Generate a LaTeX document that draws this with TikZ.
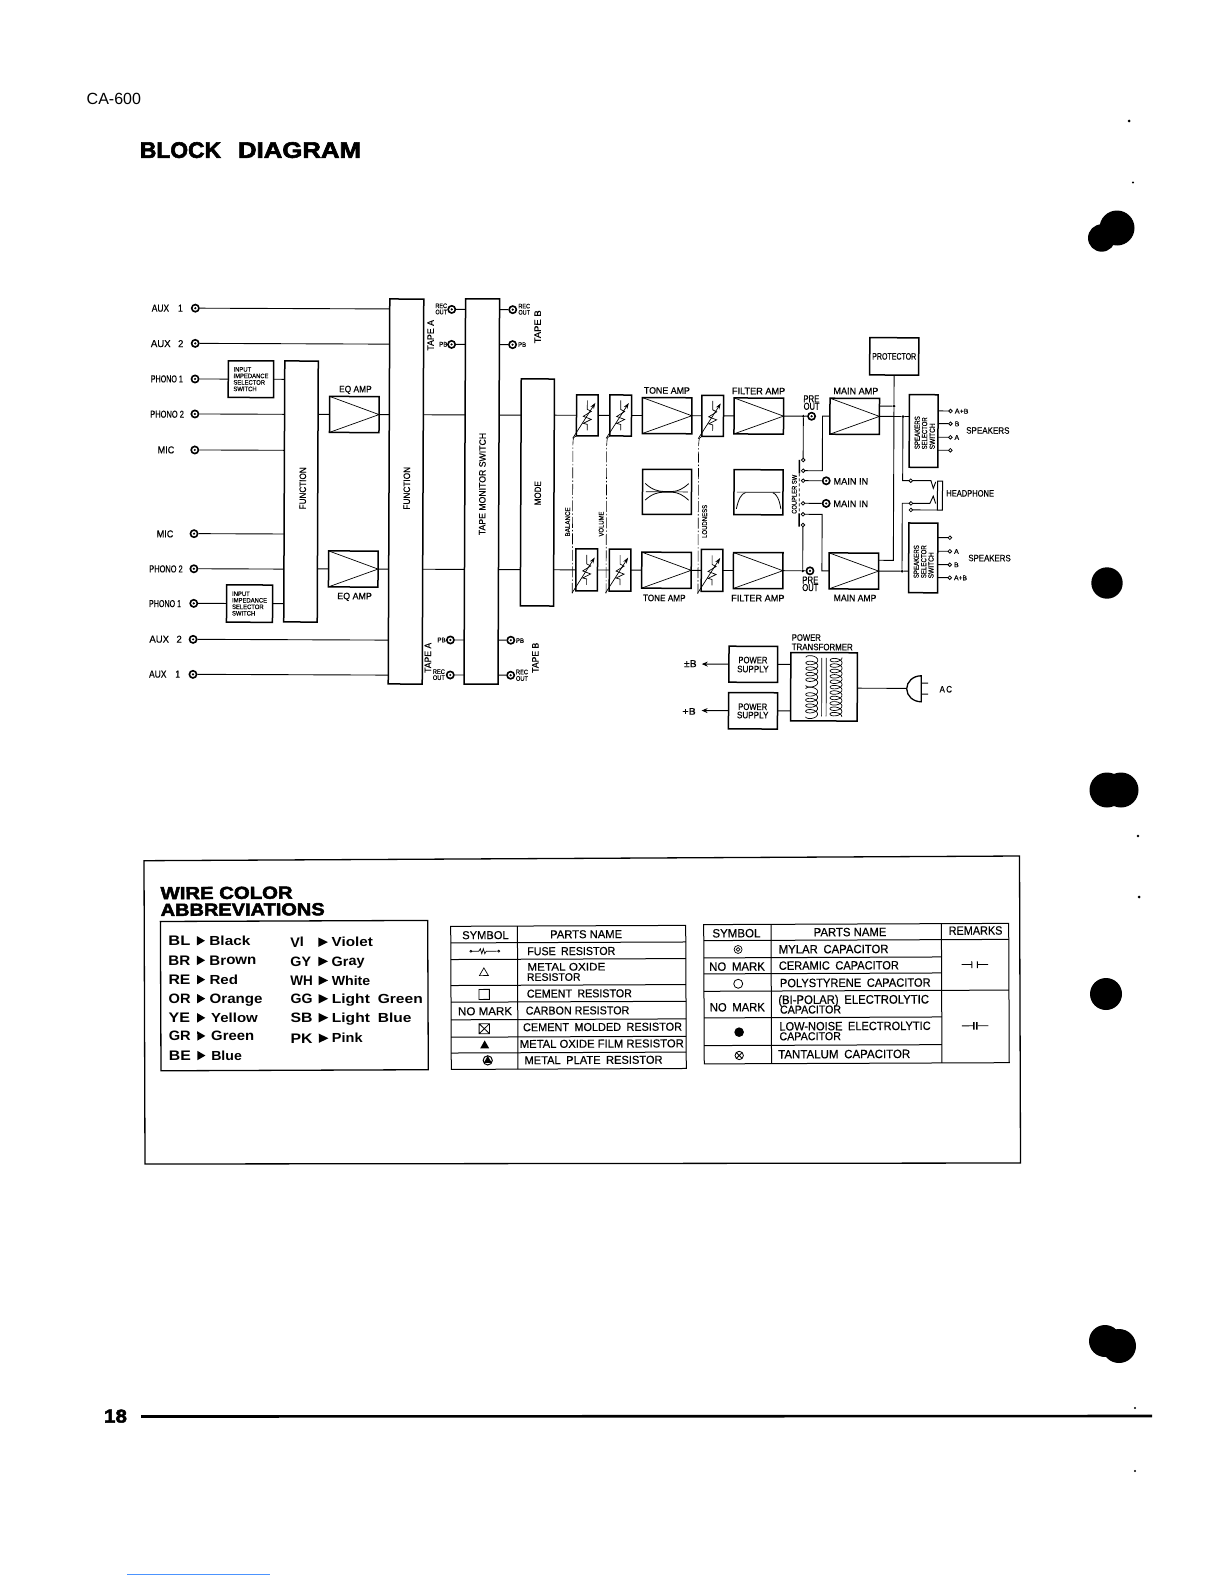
\documentclass[tikz,border=0pt]{standalone}
\usepackage{graphicx}
\usepackage{fontspec}
\usetikzlibrary{arrows.meta,calc}
\setmainfont{Liberation Sans}
\newfontfamily\mfont{Liberation Sans}[FakeBold=0.4]
\newfontfamily\wfont{Liberation Sans}[UprightFont=* Bold]
\newfontfamily\hfont{Liberation Sans}[UprightFont=* Bold,FakeBold=2.6]
\newcounter{tc}
\newcommand\TT[3]{\resizebox{#1pt}{#2pt}{#3}}
\newcommand\LL[5]{\stepcounter{tc}\node[txt,anchor=base west] (t\thetc) at ({#1},{#2+#4/2}) {\TT{#3}{#4}{#5}};}
\newcommand\LC[5]{\stepcounter{tc}\node[txt,anchor=base] (t\thetc) at ({#1},{#2+#4/2}) {\TT{#3}{#4}{#5}};}
\newcommand\LV[5]{\stepcounter{tc}\node[txt,anchor=base,rotate=90] (t\thetc) at ({#1+#4/2},{#2}) {\TT{#3}{#4}{#5}};}
\newcommand\BX[5]{\node[bx,minimum width=#4pt,minimum height=#5pt] (#1) at (#2,#3) {};}
\newcommand\AMP[3]{\BX{#1}{#2}{#3}{49.5}{36}\draw[thinl] (#1.north west) -- (#1.east) -- (#1.south west);}
\newcommand\JK[3]{\node[jack] (#1) at (#2,#3) {};}
\newcommand\TM[3]{\node[term] (#1) at (#2,#3) {};}
\newcommand\DOT[3]{\node[jdot] (#1) at (#2,#3) {};}
\newcommand\POT[4]{\BX{#1}{#2}{#3}{21.6}{#4}
 \begin{scope}[shift={(#2,#3)}]
 \draw[thinl] (0,-15) -- (0,-6) -- (4,-4) -- (-4,1) -- (4,4) -- (-4,8) -- (0,9) -- (0,15);
 \draw[thinl,-{Stealth[length=6pt,width=4pt]}] (-14.5,23) -- (8,-12.5);
 \end{scope}}
\newcommand\COIL[5]{\draw[line width=.7pt] plot[smooth,domain=#5:{#5+360*#3},samples={16*#3}] ({#1+6*cos(\x)},{#2+#4*((\x-#5)/360)+3*sin(\x)});}
\tikzset{
 txt/.style={inner sep=0pt,outer sep=0pt},
 bx/.style={draw,rectangle,line width=1.5pt,inner sep=0pt,outer sep=0pt},
 wire/.style={line width=.9pt},
 thinl/.style={line width=.7pt},
 jack/.style={circle,fill=black,minimum size=9pt,inner sep=0pt,outer sep=0pt,
   path picture={\fill[white] (path picture bounding box.center) circle (2.6pt);
                 \fill[black] (path picture bounding box.center) circle (1.2pt);}},
 term/.style={circle,draw,line width=.8pt,fill=white,minimum size=3.6pt,inner sep=0pt,outer sep=0pt},
 jdot/.style={circle,fill=black,minimum size=3pt,inner sep=0pt,outer sep=0pt},
 gang/.style={line width=.6pt,dash pattern=on 11pt off 2pt on 1.5pt off 2pt},
 tline/.style={line width=1pt},
}
\begin{document}
\begin{tikzpicture}[x=1pt,y=-1pt,every node/.append style={font=\mfont}]
\useasboundingbox (0,0) rectangle (1224,1584);
% page furniture
\LL{86.7}{99.3}{54.3}{11.3}{\normalfont CA-600}
\begin{scope}[every node/.append style={font=\hfont}]
\LL{140}{150}{81}{15.7}{BLOCK}
\LL{238}{150}{123}{15.7}{DIAGRAM}
\LL{104}{1416}{23}{13}{18}
\end{scope}
\draw[line width=2.6pt] (141,1416.5) -- (1152,1416);
\draw[line width=1pt,color=blue!60!cyan!70] (127,1574.5) -- (270,1574.5);
% punch holes and specks
\fill (1117,228) circle (17.5) (1101.7,238) circle (13.7);
\fill (1107,583) circle (15.7);
\fill (1107,790) circle (17.5) (1121,790) circle (17.5);
\fill (1106,994) circle (16);
\fill (1105,1341) circle (16) (1119,1346) circle (17);
\fill (1129,121) circle (1.5) (1133,182.5) circle (1.2) (1138,836) circle (1.3) (1139,897) circle (1.5) (1135,1408) circle (1.2) (1135,1471) circle (1.2);

% ===== BLOCK DIAGRAM =====
\begin{scope}[rotate around={-0.23:(600,490)},transform shape]
% buses
\BX{ff}{301}{492.7}{33.5}{261}
\BX{fs}{406}{492.3}{34}{385}
\BX{tms}{481.8}{492}{34}{385.3}
\BX{mode}{537.4}{492.7}{33.2}{227}
\LV{302.7}{489.5}{42}{6.5}{FUNCTION}
\LV{406.7}{489}{42.7}{6.5}{FUNCTION}
\LV{482.3}{484.5}{102.3}{6.5}{TAPE MONITOR SWITCH}
\LV{537.7}{493.5}{24}{6.5}{MODE}
% input jacks
\JK{ja1}{194.6}{309.8}\JK{ja2}{194.6}{345}\JK{jp1}{194.6}{380.6}\JK{jp2}{194.6}{415.6}\JK{jm}{194.6}{451.6}
\JK{jmb}{194.2}{535.3}\JK{jpb2}{194.2}{570.4}\JK{jpb1}{194.2}{605}\JK{jab2}{193.7}{641}\JK{jab1}{193.7}{676}
\LL{151}{309.9}{31}{7}{AUX\enspace\ \ 1}
\LL{150.3}{345.3}{32.5}{7}{AUX\enspace\ 2}
\LL{150.4}{380.6}{32}{7}{PHONO 1}
\LL{149.9}{415.9}{33.7}{7}{PHONO 2}
\LL{157.5}{451.6}{16.6}{7}{MIC}
\LL{156.9}{535.6}{16.6}{7}{MIC}
\LL{149.6}{570.6}{33.4}{7}{PHONO 2}
\LL{149.5}{605.3}{32}{7}{PHONO 1}
\LL{150}{640.9}{32.4}{7}{AUX\enspace\ 2}
\LL{149.8}{675.9}{31}{7}{AUX\enspace\ \ 1}
\draw[wire] (ja1) -- (ja1 -| fs.west);
\draw[wire] (ja2) -- (ja2 -| fs.west);
\draw[wire] (jab2) -- (jab2 -| fs.west);
\draw[wire] (jab1) -- (jab1 -| fs.west);
\draw[wire] (jp2) -- (jp2 -| ff.west);
\draw[wire] (jm) -- (jm -| ff.west);
\draw[wire] (jmb) -- (jmb -| ff.west);
\draw[wire] (jpb2) -- (jpb2 -| ff.west);
% impedance selectors
\node[bx,minimum width=45.4pt,minimum height=36.6pt] (isu) at (250.5,380.6) {\TT{35}{24}{\shortstack[l]{INPUT\\IMPEDANCE\\SELECTOR\\SWITCH}}};
\node[bx,minimum width=46pt,minimum height=37.3pt] (isl) at (250,605) {\TT{35}{24}{\shortstack[l]{INPUT\\IMPEDANCE\\SELECTOR\\SWITCH}}};
\draw[wire] (jp1) -- (isu.west);
\draw[wire] (isu.east) -- (isu.east -| ff.west);
\draw[wire] (jpb1) -- (isl.west);
\draw[wire] (isl.east) -- (isl.east -| ff.west);
% EQ amps
\AMP{equ}{354}{415.5}
\AMP{eql}{353.6}{570}
\LC{355}{390}{32.6}{6.5}{EQ AMP}
\LC{355}{597}{34.6}{6.5}{EQ AMP}
\draw[wire] (equ.west -| ff.east) -- (equ.west);
\draw[wire] (eql.west -| ff.east) -- (eql.west);
\draw[wire] (equ.east) -- (equ.east -| fs.west);
\draw[wire] (eql.east) -- (eql.east -| fs.west);
\draw[wire] (equ.east -| fs.east) -- (equ.east -| tms.west);
\draw[wire] (eql.east -| fs.east) -- (eql.east -| tms.west);
\draw[wire] (equ.east -| tms.east) -- (equ.east -| mode.west);
\draw[wire] (eql.east -| tms.east) -- (eql.east -| mode.west);
% tape jacks
\JK{tr1}{451}{310}\JK{tp1}{451}{345}\JK{tp2}{451}{640.6}\JK{tr2}{451}{675.6}
\JK{br1}{512}{310}\JK{bp1}{512}{345}\JK{bp2}{511.4}{640.6}\JK{br2}{511.4}{675.6}
\foreach \n in {tr1,tp1,tp2,tr2}{\draw[wire] (\n) -- (\n -| tms.west);}
\foreach \n in {br1,bp1,bp2,br2}{\draw[wire] (\n) -- (\n -| tms.east);}
\LV{430}{336}{30.7}{6.5}{TAPE A}
\LV{428.6}{658.5}{30}{6.5}{TAPE A}
\LV{537}{327}{33}{6.5}{TAPE B}
\LV{536}{658}{30}{6.5}{TAPE B}
\LC{440.5}{306.4}{11.5}{4.6}{REC}\LC{440.5}{312.6}{11.5}{4.6}{OUT}
\LC{523.5}{306.4}{11.5}{4.6}{REC}\LC{523.5}{312.6}{11.5}{4.6}{OUT}
\LC{439.6}{672.3}{12}{4.6}{REC}\LC{439.6}{678.3}{12}{4.6}{OUT}
\LC{522.7}{672.3}{12}{4.6}{REC}\LC{522.7}{678.8}{12}{4.6}{OUT}
\LL{438.6}{344.9}{8.3}{4.6}{PB}
\LL{517.5}{344.9}{8}{4.6}{PB}
\LL{438}{640.6}{8.3}{4.6}{PB}
\LL{516.6}{640.9}{8}{4.6}{PB}
% volume section
\POT{pu1}{587}{415.4}{41}\POT{pu2}{620.4}{415.4}{41}\POT{pu3}{712.4}{415.4}{41}
\POT{pl1}{587}{570}{42}\POT{pl2}{620.4}{570}{42}\POT{pl3}{712.4}{570}{42}
\AMP{tu}{666.8}{415.4}\AMP{tl}{666.8}{570}
\AMP{fu}{758.5}{415.4}\AMP{fl}{758.5}{570}
\LC{666.5}{390.2}{46}{6.5}{TONE AMP}
\LC{664.7}{597.7}{42.7}{6.5}{TONE AMP}
\LC{758.2}{390.4}{53.3}{6.5}{FILTER AMP}
\LC{758.3}{597.5}{53.3}{6.5}{FILTER AMP}
\BX{tc}{667}{491.6}{49}{45}
\BX{fc}{758.5}{491.6}{49}{45}
\begin{scope}[shift={(tc.center)}]
\draw[thinl] (-21,0) -- (21,0);
\draw[line width=.8pt] (-21.7,-8.3) .. controls (-15,-2) and (-9,-.5) .. (-3,-.3) -- (5,-.3) .. controls (11,-.5) and (16,-3) .. (21.7,-8.3);
\draw[line width=.8pt] (-21.7,8.3) .. controls (-15,2) and (-9,.5) .. (-3,.3) -- (5,.3) .. controls (11,.5) and (16,3) .. (21.7,8.3);
\end{scope}
\begin{scope}[shift={(fc.center)}]
\draw[thinl] (-21.5,0) -- (22,0);
\draw[line width=.8pt] (-22,16.7) .. controls (-20,7) and (-17,1.5) .. (-13,.5);
\draw[line width=.8pt] (14.5,.5) .. controls (18,1.5) and (21,7) .. (22.5,16.7);
\end{scope}
\foreach \a/\b in {pu1/pu2,pu2/tu,tu/pu3,pu3/fu,pl1/pl2,pl2/tl,tl/pl3,pl3/fl}{\draw[wire] (\a.east) -- (\b.west);}
\draw[wire] (pu1.west -| mode.east) -- (pu1.west);
\draw[wire] (pl1.west -| mode.east) -- (pl1.west);
% gang lines
\coordinate (g1) at (572.7,593.5);\coordinate (g2) at (606.5,593.5);\coordinate (g3) at (698.4,593.5);
\draw[gang] (pu1.south west) .. controls (573,437) .. (572.7,445) -- (g1);
\draw[gang] (pu2.south west) .. controls (607,437) .. (606.5,445) -- (g2);
\draw[gang] (pu3.south west) .. controls (699,437) .. (698.4,445) -- (g3);
\LV{567.7}{522}{29}{4.8}{BALANCE}
\LV{601.3}{524}{25}{4.8}{VOLUME}
\LV{704.7}{521}{33}{4.8}{LOUDNESS}
% pre out and coupler
\DOT{du}{803.1}{415.4}\DOT{dl}{803.1}{570}
\JK{pou}{811.3}{415.4}\JK{pol}{810.3}{570}
\draw[wire] (fu.east) -- (du) -- (pou);
\draw[wire] (fl.east) -- (dl) -- (pol);
\LC{811}{398}{16}{7}{PRE}\LC{811.3}{405.4}{16}{7}{OUT}
\LC{810.7}{579.2}{16}{7}{PRE}\LC{810.7}{586.7}{16}{7}{OUT}
\TM{c1}{803.1}{459.2}\TM{c2}{803.1}{469.9}\TM{c3}{803.1}{479.9}
\TM{c4}{803.1}{502.5}\TM{c5}{803.1}{513.5}\TM{c6}{803.1}{524.2}
\draw[wire] (du) -- (c1);
\draw[wire] (dl) -- (c6);
\coordinate (sw1) at (799.3,459.2);\coordinate (sw2) at (799.3,472.5);\coordinate (sw3) at (799.3,512.5);\coordinate (sw4) at (799.3,525.9);
\draw[line width=1.5pt] (sw1) -- (sw2);
\draw[line width=1.5pt] (sw3) -- (sw4);
\draw[line width=.7pt,dash pattern=on 3pt off 2pt] (sw2) -- (sw3);
\LV{794.3}{493.5}{39}{4.8}{COUPLER SW}
\JK{mi1}{826.2}{479.9}\JK{mi2}{826.2}{502.5}
\draw[wire] (c3) -- (mi1);
\draw[wire] (c4) -- (mi2);
\LL{833.5}{480.4}{34.7}{6.5}{MAIN IN}
\LL{833.5}{502.8}{34.7}{6.5}{MAIN IN}
% main amps
\AMP{mu}{854.4}{415.3}\AMP{ml}{854.2}{570}
\coordinate (bu) at (822.3,415.3);\coordinate (bl) at (822.3,570);
\draw[wire] (c2) -| (bu) -- (mu.west);
\draw[wire] (c5) -| (bl) -- (ml.west);
\LC{855.5}{390}{45}{6.5}{MAIN AMP}
\LC{855.5}{597}{42.7}{6.5}{MAIN AMP}
% protector
\node[bx,minimum width=49pt,minimum height=37.3pt] (prot) at (893.7,355.2) {\TT{44}{6.5}{PROTECTOR}};
\coordinate (pb) at (893.7,559.2);
\DOT{pd}{893.7}{405}
\draw[wire] (prot.south) -- (pd) -- (pb) -- (pb -| ml.east);
\draw[wire] (pd -| mu.east) -- (pd);
% speaker selectors
\BX{su}{923.4}{429.7}{28.7}{72.6}
\BX{sl}{923.5}{556.6}{29}{69.7}
\LV{917}{431.4}{33}{5.2}{SPEAKERS}\LV{924.3}{432}{32}{5.2}{SELECTOR}\LV{932}{435}{26}{5.2}{SWITCH}
\LV{916.6}{560.4}{33}{5.2}{SPEAKERS}\LV{924}{560.4}{33}{5.2}{SELECTOR}\LV{931.3}{564}{26}{5.2}{SWITCH}
\DOT{ju}{902.7}{415.3}\DOT{jl}{902.4}{570}
\draw[wire] (mu.east) -- (ju) -- (su.west |- ju);
\draw[wire] (ml.east) -- (jl) -- (sl.west |- jl);
\TM{su1}{950.2}{409.6}\TM{su2}{950.2}{422.3}\TM{su3}{950.2}{435.9}\TM{su4}{950.2}{448.9}
\TM{sl1}{950.1}{536.3}\TM{sl2}{950.1}{549.9}\TM{sl3}{950.1}{563.3}\TM{sl4}{950.1}{576.3}
\foreach \n in {su1,su2,su3,su4}{\draw[wire] (\n) -- (\n -| su.east);}
\foreach \n in {sl1,sl2,sl3,sl4}{\draw[wire] (\n) -- (\n -| sl.east);}
\LL{954.5}{409.7}{13.6}{4.8}{A+B}\LL{954.5}{422.4}{4.6}{4.8}{B}\LL{954.3}{436}{4.6}{4.8}{A}
\LL{954.4}{550}{4.6}{4.8}{A}\LL{954.4}{563.4}{4.6}{4.8}{B}\LL{954.4}{576.4}{13}{4.8}{A+B}
\LC{987.6}{428.9}{43.3}{6.5}{SPEAKERS}
\LC{989.8}{556.5}{42.3}{6.5}{SPEAKERS}
% headphone
\node[draw,rectangle,line width=1pt,minimum width=5pt,minimum height=29pt,inner sep=0pt,outer sep=0pt] (hp) at (940,494.2) {};
\TM{h1}{910.7}{479.4}\TM{h2}{911}{502.1}\TM{h3}{911}{508.7}
\draw[wire] (ju) |- (h1);
\draw[wire] (jl) |- (h2);
\draw[wire] (h3) -- (h3 -| hp.west);
\coordinate (hv1) at (931,479.4);\coordinate (hv2) at (930,502.1);
\draw[wire] (h1) -- (hv1) -- (933.3,487) -- (935.7,480.5);
\draw[wire] (h2) -- (hv2) -- (933.3,494.8) -- (935.7,502.1);
\LL{946.3}{491.8}{47.7}{6.5}{HEADPHONE}
% power
\BX{ps1}{754}{663.7}{48.7}{36}
\BX{ps2}{753.9}{710.2}{49}{36.3}
\LC{753.6}{659.4}{29}{6.5}{POWER}\LC{753.6}{668.4}{31.5}{6.5}{SUPPLY}
\LC{753.6}{706.1}{29}{6.5}{POWER}\LC{753.6}{714.4}{31.5}{6.5}{SUPPLY}
\BX{tf}{824.8}{685.9}{66.6}{68.3}
\LL{792.4}{636.7}{29}{6.5}{POWER}
\LL{792.4}{646.1}{61}{6.5}{TRANSFORMER}
\draw[wire] (ps1.east) -- (ps1.east -| tf.west);
\draw[wire] (ps2.east) -- (ps2.east -| tf.west);
\draw[thinl] (822.5,657) -- (822.5,715.5);
\draw[thinl] (827,657) -- (827,715.5);
\COIL{812.5}{656.5}{5}{5.6}{180}
\COIL{812.5}{688}{5}{5.6}{180}
\COIL{836.8}{656.5}{11}{5.4}{0}
\coordinate (ar1) at (702.5,663.7);\coordinate (ar2) at (702.5,710.2);
\draw[wire,-{Stealth[length=6pt,width=5pt]}] (ps1.west) -- (ar1);
\draw[wire,-{Stealth[length=6pt,width=5pt]}] (ps2.west) -- (ar2);
\LC{691}{663.3}{12.7}{7}{±B}
\LC{690}{711}{13.3}{6.5}{+B}
\coordinate (plug) at (907.5,687.2);
\draw[wire] (plug -| tf.east) -- (plug);
\draw[line width=1.3pt] (922,674.5) arc[start angle=90,end angle=270,x radius=14.5,y radius=-13] -- cycle;
\draw[line width=1pt] (922,681.9) -- (929,681.9) (922,692.9) -- (929,692.9);
\LC{946.6}{687.8}{12.4}{6.5}{A\,C}
\end{scope}

% ===== LEGEND =====
\draw[line width=1.3pt] (144,860.7) -- (1019.5,856) -- (1020.5,1163) -- (145,1164) -- cycle;
\begin{scope}[rotate around={0.23:(580,1000)},transform shape]
\begin{scope}[yshift=1.3pt]
\begin{scope}[every node/.append style={font=\hfont}]
\LL{161}{892.7}{132}{12.2}{WIRE COLOR}
\LL{161}{909.4}{164}{12.2}{ABBREVIATIONS}
\end{scope}
\draw[line width=1.3pt] (160.7,921.1) rectangle (428,1070.4);
\begin{scope}[every node/.append style={font=\wfont}]
\foreach \y/\a/\aw/\w/\wx/\ww in {940.5/BL/22/Black/209.6/41,960.1/BR/22/Brown/209.6/47,979.4/RE/22/Red/209.6/28.6,998.4/OR/22/Orange/209.6/53,1017.6/YE/21.5/Yellow/211/46.8,1035.7/GR/22/Green/211/43,1055.3/BE/22/Blue/211/30.7}{
 \LL{168.6}{\y}{\aw}{9.5}{\a}\LL{\wx}{\y}{\ww}{9.5}{\w}
 \fill (197.1,\y-4.7) -- (205.2,\y) -- (197.1,\y+4.7) -- cycle;}
\foreach \y/\a/\aw/\w/\ww in {942.4/VI/13.6/Violet/41.4,961.6/GY/20.7/Gray/33,980.7/WH/22.5/White/38.6,999/GG/22/Light\enspace Green/91,1018/SB/22/Light\enspace Blue/79.6,1038.5/PK/22/Pink/30.7}{
 \LL{290.5}{\y}{\aw}{9.5}{\a}\LL{331.8}{\y}{\ww}{9.5}{\w}
 \fill (318.6,\y-4.7) -- (328.2,\y) -- (318.6,\y+4.7) -- cycle;}
\end{scope}
\end{scope}
% left table
\draw[tline] (451,925.8) rectangle (686,1068.9);
\draw[tline] (517.7,925.8) -- (517.7,1068.9);
\foreach \y in {942.4,959,985,1001.7,1019.3,1036.7,1052.5}{\draw[tline] (451,\y) -- (686,\y);}
\LC{485.7}{934.7}{46.4}{8}{SYMBOL}
\LC{586.4}{934.2}{72}{8}{PARTS NAME}
\LL{527.5}{951}{88}{8}{FUSE\enspace RESISTOR}
\LL{527.5}{966.7}{78}{7.6}{METAL OXIDE}
\LL{527}{976.9}{53.6}{7.6}{RESISTOR}
\LL{526.9}{993.4}{105}{8}{CEMENT\enspace RESISTOR}
\LL{525.7}{1010.4}{103.6}{8}{CARBON RESISTOR}
\LL{522.9}{1027}{159}{8}{CEMENT\enspace MOLDED\enspace RESISTOR}
\LL{519.6}{1043.7}{164}{8}{METAL OXIDE FILM RESISTOR}
\LL{524.3}{1060}{138}{8}{METAL\enspace PLATE\enspace RESISTOR}
\LC{485}{1010.8}{54}{8}{NO MARK}
\draw[thinl] (471,950.8) circle (1) (499,950.8) circle (1);
\draw[thinl] (472,950.8) -- (479,950.8) -- (480.5,948.3) -- (482,953.3) -- (483.5,948.3) -- (485,953.3) -- (486.5,950.8) -- (498,950.8);
\draw[thinl] (484,967.5) -- (488.5,975.2) -- (479.5,975.2) -- cycle;
\draw[line width=.8pt] (479,989) rectangle (489.4,999);
\draw[line width=.8pt] (479,1023.3) rectangle (489.4,1033.3) (479,1023.3) -- (489.4,1033.3) (479,1033.3) -- (489.4,1023.3);
\fill (484.5,1040) -- (489,1048) -- (480,1048) -- cycle;
\draw[line width=1pt] (487.5,1060) circle (4.6);
\fill (487.5,1055.5) -- (491.5,1062.5) -- (483.5,1062.5) -- cycle;
% right table
\begin{scope}[yshift=-1.1pt]
\draw[tline] (704,924) rectangle (1009,1063.3);
\draw[tline] (771.3,924) -- (771.3,1063.3);
\draw[tline] (941.7,924) -- (941.7,1063.3);
\draw[tline] (704,940) -- (1009,940);
\draw[tline] (704,990.7) -- (1009,990.7);
\foreach \y in {957.3,973.3,1017.3,1045}{\draw[tline] (704,\y) -- (941.7,\y);}
\LL{712.7}{932.7}{48}{8.4}{SYMBOL}
\LL{814}{932}{72.7}{8.4}{PARTS NAME}
\LL{949}{931}{53.7}{8.4}{REMARKS}
\LL{709.3}{966}{55.7}{8.4}{NO\enspace MARK}
\LL{709.8}{1006.7}{55}{8.4}{NO\enspace MARK}
\LL{779}{949}{109.7}{8.4}{MYLAR\enspace CAPACITOR}
\LL{779}{965.3}{120}{8.4}{CERAMIC\enspace CAPACITOR}
\LL{780}{982.7}{150.7}{8.4}{POLYSTYRENE\enspace CAPACITOR}
\LL{778.3}{999.3}{150.7}{9}{(BI-POLAR)\enspace ELECTROLYTIC}
\LL{780}{1009.3}{61}{8}{CAPACITOR}
\LL{779.3}{1026}{151.3}{8.4}{LOW-NOISE\enspace ELECTROLYTIC}
\LL{779.3}{1036}{61.5}{8}{CAPACITOR}
\LL{778}{1054}{132}{8.4}{TANTALUM\enspace CAPACITOR}
\draw[line width=.7pt] (738.3,949) circle (4) (738.3,949) circle (1.9);
\draw[line width=.8pt] (738.3,983.3) circle (4.5);
\fill (739,1031.7) circle (4.8);
\draw[line width=.8pt] (739,1055) circle (4.2) (736,1052) -- (742,1058) (736,1058) -- (742,1052);
\draw[line width=.8pt] (961.7,965) -- (972,965) (972,961.5) -- (972,968.5) (977.5,961.5) -- (977.5,968.5) (977.5,965) -- (988.3,965);
\draw[line width=.8pt] (961.7,1026.3) -- (973,1026.3) (977.5,1026.3) -- (988.3,1026.3);
\fill (973,1022.6) rectangle (974.6,1030) (976,1022.6) rectangle (977.6,1030);
\end{scope}
\end{scope}
\end{tikzpicture}
\end{document}
